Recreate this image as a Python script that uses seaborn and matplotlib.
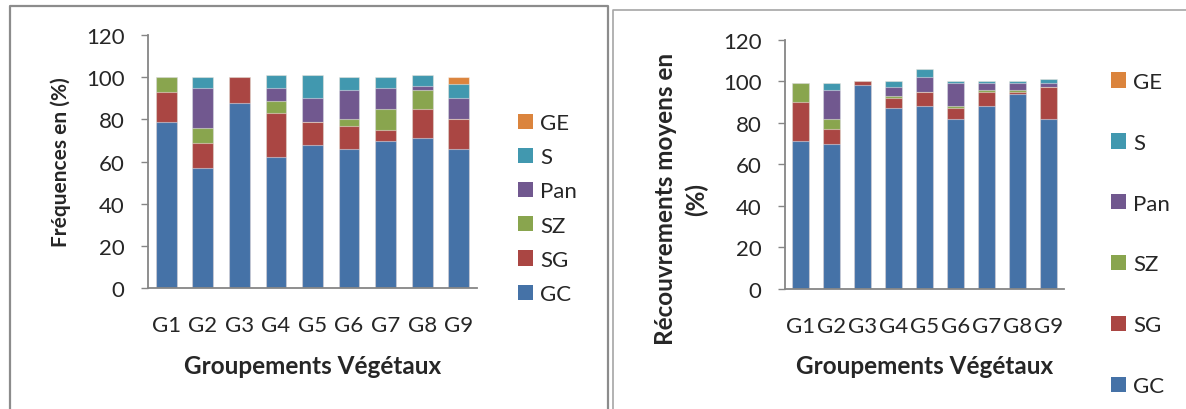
import numpy as np
import pandas as pd
import matplotlib
matplotlib.use("Agg")
import matplotlib.pyplot as plt
from matplotlib.patches import Patch
from matplotlib.lines import Line2D
import seaborn as sns

# Plant groupings on the x axis
groups = ["G1", "G2", "G3", "G4", "G5", "G6", "G7", "G8", "G9"]
series = ["GC", "SG", "SZ", "Pan", "S", "GE"]

# Frequencies (%) per category, stacked bottom to top
freq_gc = [79, 57, 88, 62, 68, 66, 70, 71, 66]
freq_sg = [14, 12, 12, 21, 11, 11, 5, 14, 14]
freq_sz = [7, 7, 0, 6, 0, 3, 10, 9, 0]
freq_pan = [0, 19, 0, 6, 11, 14, 10, 2, 10]
freq_s = [0, 5, 0, 6, 11, 6, 5, 5, 7]
freq_ge = [0, 0, 0, 0, 0, 0, 0, 0, 3]

# Mean cover (%) per category, stacked bottom to top
cov_gc = [71, 70, 98, 87, 88, 82, 88, 94, 82]
cov_sg = [19, 7, 2, 5, 7, 5, 7, 1, 15]
cov_sz = [9, 5, 0, 1, 0, 1, 1, 1, 0]
cov_pan = [0, 14, 0, 4, 7, 11, 3, 3, 2]
cov_s = [0, 3, 0, 3, 4, 1, 1, 1, 2]
cov_ge = [0, 0, 0, 0, 0, 0, 0, 0, 0]

colors = {
    "GC": "#4572A7",
    "SG": "#AA4643",
    "SZ": "#89A54E",
    "Pan": "#71588F",
    "S": "#4198AF",
    "GE": "#DB843D",
}

sns.set_style("white")
plt.rcParams["font.family"] = ["Lato", "DejaVu Sans"]
plt.rcParams["font.size"] = 16

W, H = 1186, 410
fig = plt.figure(figsize=(W / 100, H / 100), dpi=100)


def px_rect(x0, y0, x1, y1):
    """Figure-fraction [left, bottom, width, height] from pixel box (top-left origin)."""
    return [x0 / W, 1 - y1 / H, (x1 - x0) / W, (y1 - y0) / H]


def stacked(ax, values):
    df = pd.DataFrame(values, index=series, columns=groups)
    cum = df.cumsum(axis=0)
    for name in reversed(series):
        sns.barplot(x=groups, y=cum.loc[name].values, color=colors[name],
                    saturation=1, width=0.57, ax=ax,
                    edgecolor=(1, 1, 1, 0.45), linewidth=0.8)


def style_axes(ax):
    ax.set_ylim(0, 120)
    ax.set_yticks(range(0, 121, 20))
    ax.set_xlim(-0.5, 8.5)
    for side in ("top", "right"):
        ax.spines[side].set_visible(False)
    for side in ("left", "bottom"):
        ax.spines[side].set_color("#868686")
        ax.spines[side].set_linewidth(1.3)
    ax.tick_params(axis="y", length=5, width=1, color="#868686",
                   pad=12, labelsize=16, direction="out")
    ax.tick_params(axis="x", length=0, pad=19.5, labelsize=16)
    ax.tick_params(left=True)


def legend(ax, anchor, spacing):
    handles = [Patch(facecolor=colors[n], edgecolor="none", label=n)
               for n in reversed(series)]
    ax.legend(handles=handles, loc="center left", bbox_to_anchor=anchor,
              bbox_transform=fig.transFigure, frameon=False, fontsize=16,
              handlelength=0.68, handleheight=0.68, handletextpad=0.32,
              labelspacing=spacing, borderpad=0, borderaxespad=0)


# Left panel: frequencies
ax1 = fig.add_axes(px_rect(148, 36.2, 477, 289))
stacked(ax1, [freq_gc, freq_sg, freq_sz, freq_pan, freq_s, freq_ge])
style_axes(ax1)
ax1.set_ylabel("Fréquences en (%)", fontsize=15, fontweight="bold", va="center")
ax1.yaxis.set_label_coords(-0.264, 0.5)
ax1.set_xlabel("Groupements Végétaux", fontsize=17.5, fontweight="bold", va="top")
ax1.xaxis.set_label_coords(0.5, -0.262)
legend(ax1, (518 / W, 1 - 209.5 / H), 0.64)

# Right panel: mean cover
ax2 = fig.add_axes(px_rect(785, 40.7, 1064, 290))
stacked(ax2, [cov_gc, cov_sg, cov_sz, cov_pan, cov_s, cov_ge])
style_axes(ax2)
ax2.set_ylabel("Récouvrements moyens en\n(%)", fontsize=17.5, fontweight="bold",
               va="center", linespacing=1.4)
ax2.yaxis.set_label_coords(-0.373, 0.365)
ax2.set_xlabel("Groupements Végétaux", fontsize=17.5, fontweight="bold", va="top")
ax2.xaxis.set_label_coords(0.5, -0.262)
legend(ax2, (1111 / W, 1 - 235 / H), 1.84)

# Panel frames
frame = "#8c8c8c"
def fline(xs, ys, **kw):
    fig.add_artist(Line2D([x / W for x in xs], [1 - y / H for y in ys],
                          transform=fig.transFigure, **kw))

fline([9.5, 9.5, 607.5, 607.5], [H + 5, 7, 7, H + 5], color=frame, lw=1.6)
fline([613, 613, W + 5], [H + 5, 10.8, 10.8], color="#a6a6a6", lw=1.2)

fig.savefig("out.png", dpi=100)
